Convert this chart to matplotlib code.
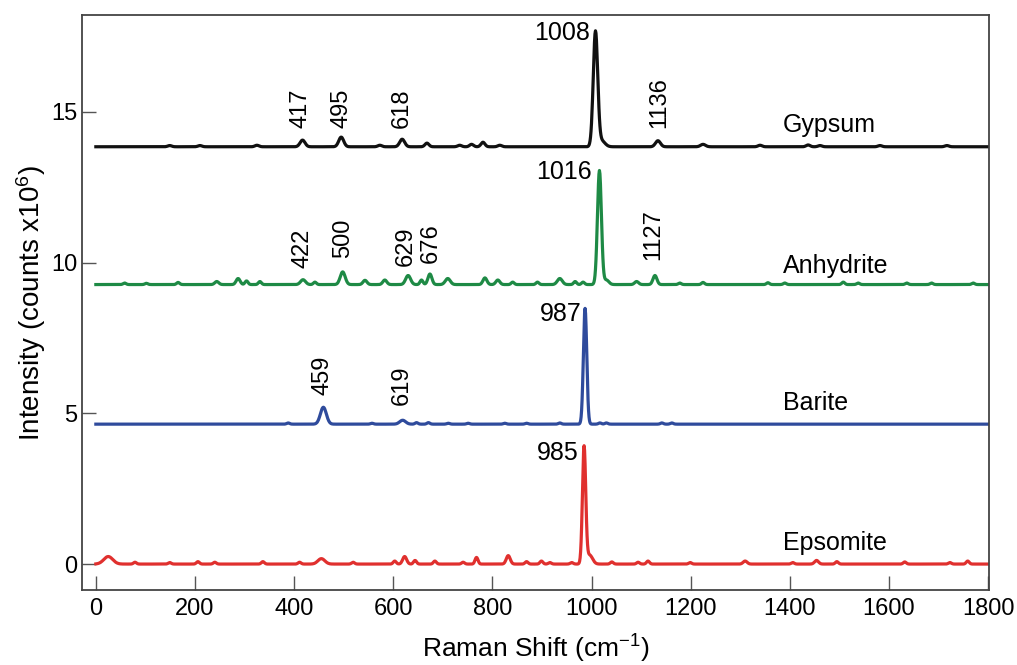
import numpy as np
import matplotlib
matplotlib.use('Agg')
import matplotlib.pyplot as plt

plt.rcParams['font.family'] = ['Liberation Sans', 'DejaVu Sans']
plt.rcParams['mathtext.default'] = 'regular'

# Raman shift grid (cm-1)
shift = np.arange(0, 1801, 1.0)

minerals = ['Gypsum', 'Anhydrite', 'Barite', 'Epsomite']
colors = ['#111111', '#1e8a45', '#2f4b9c', '#e0302e']
baselines = [13.84, 9.27, 4.64, 0.0]

# bands: (position, height above baseline, width sigma)
gypsum_bands = [
    (149, 0.04, 4), (210, 0.04, 4), (325, 0.05, 4), (417, 0.22, 5),
    (495, 0.32, 5), (573, 0.05, 4), (618, 0.25, 5), (668, 0.12, 4),
    (734, 0.05, 4), (758, 0.08, 4), (781, 0.15, 4), (815, 0.05, 4),
    (1008, 3.8, 4.5), (1020, 0.2, 7), (1134, 0.2, 5), (1225, 0.08, 5),
    (1340, 0.05, 4), (1437, 0.06, 4), (1461, 0.04, 4), (1582, 0.04, 4),
    (1717, 0.04, 4),
]
anhydrite_bands = [
    (58, 0.05, 3), (102, 0.04, 3), (166, 0.07, 3), (244, 0.1, 4),
    (287, 0.2, 4), (304, 0.12, 3), (331, 0.1, 3), (418, 0.16, 5),
    (442, 0.08, 3), (498, 0.42, 5), (543, 0.14, 4), (583, 0.15, 4),
    (630, 0.3, 5), (657, 0.15, 3), (674, 0.35, 4), (710, 0.2, 5),
    (785, 0.22, 4), (811, 0.15, 4), (841, 0.08, 3), (891, 0.08, 3),
    (936, 0.2, 5), (967, 0.1, 3), (983, 0.08, 3), (1016, 3.78, 4),
    (1030, 0.15, 5), (1091, 0.1, 4), (1128, 0.3, 4), (1178, 0.05, 3),
    (1225, 0.07, 3), (1356, 0.06, 3), (1390, 0.05, 3), (1508, 0.08, 3),
    (1538, 0.05, 3), (1636, 0.05, 3), (1686, 0.05, 3), (1770, 0.05, 3),
]
barite_bands = [
    (388, 0.04, 3), (459, 0.56, 6), (557, 0.03, 3), (619, 0.13, 6),
    (647, 0.05, 3), (671, 0.05, 3), (711, 0.03, 3), (751, 0.03, 3),
    (825, 0.03, 3), (869, 0.03, 3), (936, 0.04, 3), (987, 3.84, 3.4),
    (1017, 0.04, 3), (1030, 0.04, 3), (1142, 0.04, 3), (1162, 0.04, 3),
]
epsomite_bands = [
    (25, 0.25, 9), (79, 0.06, 3), (149, 0.05, 3), (206, 0.08, 3),
    (240, 0.06, 3), (337, 0.08, 3), (411, 0.06, 3), (455, 0.18, 7),
    (519, 0.06, 3), (603, 0.1, 3), (623, 0.25, 4), (644, 0.12, 3),
    (684, 0.1, 3), (741, 0.06, 3), (768, 0.22, 3), (832, 0.28, 4),
    (869, 0.08, 3), (899, 0.1, 3), (916, 0.05, 3), (960, 0.05, 3),
    (985, 3.87, 3.3), (996, 0.3, 6), (1041, 0.07, 3), (1094, 0.06, 3),
    (1114, 0.1, 3), (1199, 0.05, 3), (1310, 0.1, 4), (1406, 0.05, 3),
    (1454, 0.12, 4), (1495, 0.08, 3), (1632, 0.07, 3), (1723, 0.05, 3),
    (1759, 0.1, 3),
]
all_bands = [gypsum_bands, anhydrite_bands, barite_bands, epsomite_bands]

# main peak labels (text, x, y) and rotated minor peak labels
main_labels = [('1008', 997, 17.6), ('1016', 1000, 13.0), ('987', 980, 8.3), ('985', 975, 3.67)]
minor_labels = [
    [('417', 412, 14.45), ('495', 496, 14.45), ('618', 617, 14.45), ('1136', 1136, 14.45)],
    [('422', 416, 9.83), ('500', 498, 10.15), ('629', 626, 9.9), ('676', 675, 10.0), ('1127', 1124, 10.07)],
    [('459', 458, 5.6), ('619', 617, 5.27)],
    [],
]
name_y = [14.57, 9.9, 5.33, 0.7]


def spectrum(base, bands):
    y = np.full_like(shift, base)
    for pos, h, w in bands:
        y += h * np.exp(-0.5 * ((shift - pos) / w) ** 2)
    return y


fig = plt.figure(figsize=(10.17, 6.65), dpi=100)
ax = fig.add_axes([0.0806, 0.1128, 0.8919, 0.8642])

for name, col, base, bands, ml, mins, ny in zip(minerals, colors, baselines, all_bands,
                                                 main_labels, minor_labels, name_y):
    ax.plot(shift, spectrum(base, bands), color=col, lw=2.3)
    ax.text(ml[1], ml[2], ml[0], ha='right', va='center', fontsize=18)
    for txt, x, y in mins:
        ax.text(x, y, txt, rotation=90, ha='center', va='bottom', fontsize=17)
    ax.text(1386, ny, name, ha='left', va='center', fontsize=18)

ax.set_xlim(-28, 1802)
ax.set_ylim(-0.86, 18.2)
ax.set_xticks(range(0, 1801, 200))
ax.set_yticks([0, 5, 10, 15])
ax.tick_params(direction='in', length=10, width=1, labelsize=17, color='#555555')
ax.tick_params(axis='x', pad=6)
for sp in ax.spines.values():
    sp.set_linewidth(1.3)
    sp.set_color('#444444')

ax.set_xlabel('Raman Shift (cm$^{-1}$)', fontsize=19, labelpad=9)
ax.set_ylabel('Intensity (counts x10$^{6}$)', fontsize=20, labelpad=2)

fig.savefig('out.png', dpi=100)
